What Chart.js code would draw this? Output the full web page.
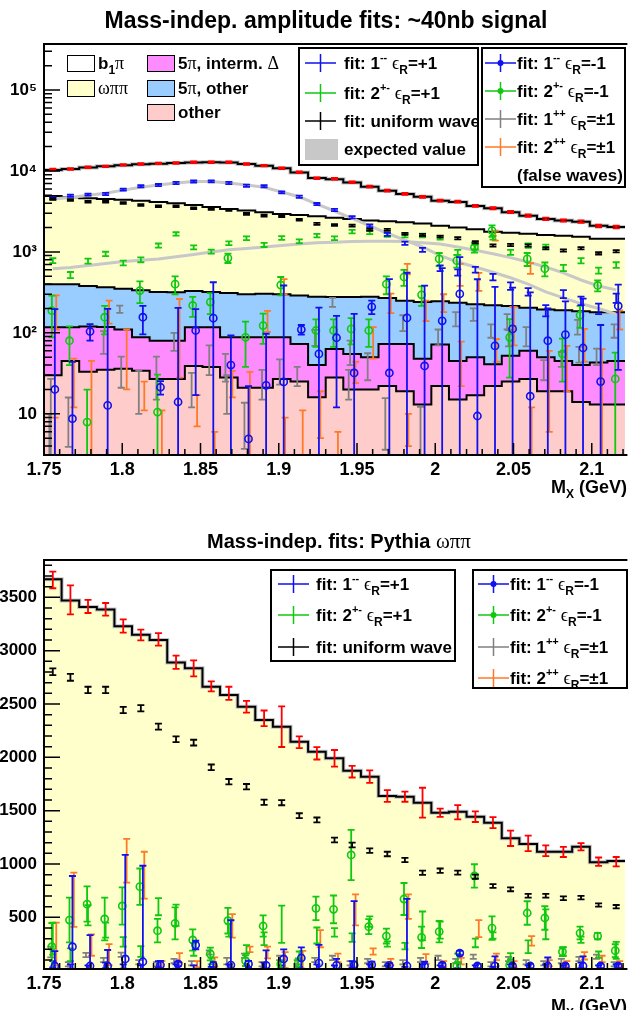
<!DOCTYPE html>
<html>
<head>
<meta charset="utf-8">
<title>Mass-indep. amplitude fits</title>
<script src="https://cdn.jsdelivr.net/npm/chart.js@4.4.1/dist/chart.umd.min.js"></script>
<style>
  html, body { margin: 0; padding: 0; background: #fff; }
  canvas { display: block; }
</style>
</head>
<body>
<canvas id="topChart" width="631" height="505"></canvas>
<canvas id="bottomChart" width="631" height="505"></canvas>
<script>
// binning of M_X (GeV)
const binStart = 1.75;
const binWidth = 0.01125;
const xMin = 1.75;
const xMax = 2.1215;

const xTicks = [1.75, 1.8, 1.85, 1.9, 1.95, 2.0, 2.05, 2.1];
const xTickLabels = ['1.75', '1.8', '1.85', '1.9', '1.95', '2', '2.05', '2.1'];
const topYTicks = [10, 100, 1000, 10000, 100000];
const topYTickLabels = ['10', '10²', '10³', '10⁴', '10⁵'];
const bottomYTicks = [500, 1000, 1500, 2000, 2500, 3000, 3500];
const bottomYTickLabels = ['500', '1000', '1500', '2000', '2500', '3000', '3500'];

// ---- top plot: ~40nb signal (stacked generated samples, cumulative tops) ----
const topTotalHist = [10300, 10600, 11000, 11400, 11800, 12100, 12300, 12500, 12700, 12800, 12700, 12200, 11600, 10800, 9600, 8200, 7900, 7200, 6400, 5700, 5200, 4800, 4300, 4150, 3700, 3450, 3100, 2800, 2550, 2450, 2350, 2100, 2030];
const topOmegaHist = [4900, 4750, 4600, 4500, 4400, 4300, 4150, 4000, 3800, 3600, 3400, 3250, 3100, 2950, 2850, 2750, 2650, 2550, 2450, 2400, 2330, 2250, 2110, 2000, 1900, 1780, 1720, 1680, 1620, 1580, 1540, 1450, 1450];
const top5piHist = [400, 400, 380, 365, 350, 335, 320, 318, 330, 320, 310, 300, 305, 300, 290, 280, 278, 278, 280, 270, 250, 240, 245, 235, 225, 220, 215, 205, 195, 190, 185, 180, 180];
const topDeltaHist = [117, 117, 120, 118, 110, 88, 80, 80, 117, 117, 88, 88, 88, 88, 73, 40, 63, 55, 50, 73, 73, 48, 72, 45, 50, 41, 52, 60, 50, 45, 40, 43, 45];
const topOtherHist = [30, 45, 33, 35, 36, 34, 27, 27, 39, 38, 28, 21, 21, 27, 25, 16, 28, 20, 20, 22, 19, 13, 22, 15, 17, 22, 25, 27, 19, 19, 14, 13, 13];

const topExpB = [4500, 4700, 5000, 5300, 5800, 6300, 6700, 7100, 7400, 7400, 7100, 6700, 6300, 5500, 4800, 3900, 3200, 2600, 2100, 1700, 1400, 1150, 900, 750, 650, 560, 480, 400, 320, 270, 230, 200, 170];
const topExpG = [620, 640, 680, 720, 760, 790, 820, 870, 930, 1000, 1060, 1100, 1150, 1200, 1250, 1300, 1320, 1340, 1350, 1350, 1340, 1300, 1250, 1150, 1050, 950, 850, 750, 650, 550, 450, 380, 340];

const topRed = [10400, 10600, 11100, 11400, 11900, 12200, 12400, 12550, 12800, 12800, 12800, 12200, 11650, 10800, 9630, 8130, 8000, 7250, 6400, 5720, 5200, 4800, 4300, 4180, 3700, 3460, 3120, 2810, 2560, 2440, 2370, 2090, 2030];
const topRedErr = [250, 250, 260, 260, 270, 270, 280, 280, 280, 280, 280, 270, 260, 250, 230, 200, 200, 180, 170, 150, 140, 130, 120, 120, 110, 100, 95, 90, 85, 80, 80, 75, 75];
const topBlack = [4500, 4390, 4170, 4170, 4020, 3800, 3660, 3660, 3460, 3400, 3300, 2950, 2810, 2760, 2500, 2220, 2150, 2110, 1870, 1870, 1670, 1620, 1545, 1475, 1320, 1200, 1220, 1200, 1110, 1040, 1110, 960, 1020];
const topBlackErr = [110, 110, 105, 105, 100, 95, 92, 92, 88, 86, 84, 76, 73, 72, 66, 60, 58, 57, 52, 52, 48, 47, 45, 44, 40, 37, 38, 37, 35, 34, 35, 31, 33];
const topBlueI = [4600, 4950, 5100, 5200, 5870, 6470, 6700, 7100, 7400, 7450, 7100, 6570, 6470, 5450, 4800, 3900, 3300, 2680, 2100, 1650, 1280, 1060, 630, 560, 605, 490, 380, 323, 190, 303, 250, 200, 270];
const topBlueIErr = [140, 150, 150, 160, 170, 190, 200, 210, 220, 220, 210, 200, 190, 160, 150, 120, 110, 90, 80, 70, 60, 60, 50, 50, 50, 45, 40, 35, 30, 35, 30, 30, 35];
const topGreenI = [780, 520, 770, 945, 730, 800, 1200, 1670, 1140, 1010, 1280, 1480, 1220, 1490, 1355, 1590, 1480, 1780, 1750, 1620, 1600, 1600, 1500, 990, 1150, 1500, 990, 1200, 1160, 635, 780, 590, 690];
const topGreenIErr = [55, 45, 55, 60, 50, 55, 70, 80, 65, 60, 70, 80, 70, 80, 75, 80, 80, 90, 90, 85, 85, 85, 80, 70, 75, 80, 70, 75, 70, 55, 60, 50, 55];
const topGreenC = [188, 80, 7.9, 156, null, 333, 10.5, 400, 218, 240, 840, 88, 123, 390, null, 107, 107, 112, 107, 400, 490, 295, 820, 780, 1140, 1830, 88, 820, 620, 55, 165, 385, 27];
const topGreenCErr = [100, 40, 12, 60, 0, 100, 20, 100, 60, 70, 110, 50, 50, 100, 0, 40, 40, 40, 40, 100, 110, 80, 150, 140, 160, 300, 60, 150, 120, 30, 50, 60, 30];
const topBlueC = [20, 8.7, 104, 12.7, null, 156, 21.3, 14, 107, 152, 40, 4.9, 22.5, 24.8, 110, 55, 87, 32, 210, 32, 153, 39, 141, 303, 9.4, 69, 112, 16.5, 80, 95, 65, 25, 215];
const topBlueCErr = [177, 35, 24, 185, 0, 60, 4, 190, 90, 270, 53, 17, 75, 360, 15, 150, 75, 140, 40, 430, 400, 345, 490, 560, 450, 300, 250, 300, 120, 150, 200, 100, 180];
const topGray = [15, 9.9, null, 80, 36, 22, 33, 80, 22, 50, 20, 8.7, 25, 35, 30, 89, 240, 60, 41, 9.6, 135, 7.2, 90, 150, 171, 107, 88, 93, 36, 48, 55, 52, 107];
const topGrayErr = [12, 6, 0, 25, 15, 12, 18, 20, 10, 20, 10, 5, 10, 12, 8, 20, 30, 20, 15, 6, 30, 5, 20, 30, 30, 20, 20, 25, 10, 10, 12, 12, 20];
const topGrayB = [6, null, null, null, 197, null, null, null, null, null, 40, null, null, null, null, null, null, 25, null, null, null, null, null, null, null, null, 140, null, null, null, 120, null, null];
const topGrayBErr = [4, 0, 0, 0, 20, 0, 0, 0, 0, 0, 15, 0, 0, 0, 0, 0, 0, 10, 0, 0, 0, 0, 0, 0, 0, 0, 30, 0, 0, 0, 25, 0, 0];
const topOrange = [200, 30, 20, 190, 65, 18, 6, 145, 12, 4, 25, 15, 145, 6, 6, 12, 4, 34, 83, 240, 7, 195, 240, 50, 440, 64, 140, 6, 33, 44, 78, 30, 150];
const topOrangeErr = [90, 18, 25, 60, 45, 7, 5, 117, 5, 2, 9, 18, 42, 3, 5, 7, 2, 10, 35, 65, 3, 55, 60, 28, 110, 20, 70, 6, 27, 25, 34, 33, 40];
const topOrangeB = [5, null, null, null, null, null, null, null, null, null, null, null, null, 380, null, null, null, null, null, null, 620, null, null, 545, null, 1600, 166, 630, null, null, null, null, null];
const topOrangeBErr = [4, 0, 0, 0, 0, 0, 0, 0, 0, 0, 0, 0, 0, 80, 0, 0, 0, 0, 0, 0, 90, 0, 0, 165, 0, 225, 44, 95, 0, 0, 0, 0, 0];

// ---- bottom plot: Pythia omega pi pi ----
const botHist = [3670, 3470, 3410, 3385, 3230, 3150, 3100, 2890, 2835, 2662, 2585, 2475, 2350, 2287, 2147, 2053, 1991, 1875, 1819, 1638, 1631, 1575, 1481, 1491, 1444, 1388, 1241, 1188, 1116, 1116, 1163, 1016, 1028];
const botRed = [3663, 3476, 3415, 3388, 3231, 3147, 3106, 2891, 2835, 2665, 2600, 2475, 2366, 2287, 2141, 2038, 1991, 1866, 1819, 1638, 1631, 1575, 1481, 1485, 1444, 1388, 1241, 1194, 1125, 1113, 1162, 1022, 1022];
const botRedErr = [78, 136, 62, 59, 62, 50, 59, 62, 75, 47, 62, 55, 73, 190, 55, 58, 78, 55, 59, 55, 47, 140, 39, 67, 50, 52, 72, 73, 50, 47, 34, 39, 44];
const botBlack = [2803, 2750, 2632, 2632, 2444, 2460, 2288, 2170, 2138, 1907, 1772, 1725, 1579, 1575, 1453, 1413, 1225, 1178, 1125, 1094, 1038, 919, 938, 919, 881, 794, 763, 703, 703, 679, 685, 616, 600];
const botBlackErr = [32, 32, 30, 30, 29, 29, 28, 27, 27, 26, 25, 25, 24, 24, 23, 23, 22, 22, 21, 21, 20, 20, 20, 19, 19, 18, 18, 17, 17, 17, 17, 16, 16];
const botGreenC = [225, 475, 625, 485, 607, 788, 375, 444, 288, 157, 469, 94, 419, 63, 75, 585, 575, 1085, 413, 325, 672, 313, 366, 44, 888, 400, 53, 541, 494, 178, 353, 325, 188];
const botGreenCErr = [222, 210, 165, 200, 175, 170, 110, 150, 100, 60, 120, 50, 100, 30, 40, 110, 130, 235, 70, 70, 150, 100, 100, 30, 110, 110, 30, 110, 110, 40, 60, 30, 60];
const botGreenI = [300, 150, 520, 380, 270, 180, 600, 520, 200, 90, 380, 200, 300, 435, 140, 330, 360, 310, 460, 250, 230, 420, 380, 120, 260, 330, 135, 225, 435, 180, 290, 150, 190];
const botGreenIErr = [150, 60, 95, 70, 45, 50, 80, 100, 60, 30, 60, 40, 60, 175, 40, 75, 40, 40, 50, 25, 30, 135, 80, 40, 40, 30, 30, 60, 140, 40, 30, 30, 80];
const botBlueC = [44, 225, 44, 44, 110, 84, 53, 63, 241, 50, 53, 63, 50, 110, 119, 72, 50, 53, 55, 50, 44, 44, 53, 165, 44, 44, 44, 44, 44, 44, 44, 44, 44];
const botBlueCErr = [140, 663, 290, 150, 975, 900, 40, 20, 40, 30, 420, 30, 140, 90, 100, 170, 60, 600, 30, 20, 630, 40, 20, 20, 20, 90, 20, 20, 80, 20, 90, 20, 20];
const botBlueI = [60, 40, 30, 50, 40, 30, 60, 40, 30, 20, 40, 30, 50, 30, 20, 40, 30, 60, 40, 30, 20, 40, 30, 50, 30, 20, 40, 30, 40, 30, 50, 30, 40];
const botBlueIErr = [30, 20, 20, 25, 20, 20, 30, 20, 20, 15, 20, 20, 25, 20, 15, 20, 20, 30, 20, 20, 15, 20, 20, 25, 20, 15, 20, 20, 20, 20, 25, 20, 20];
const botGray = [175, 60, 148, 100, 150, 80, 60, 90, 70, 170, 90, 140, 60, 120, 80, 100, 120, 70, 90, 60, 80, 100, 120, 90, 130, 60, 110, 80, 70, 90, 110, 130, 60];
const botGrayErr = [50, 20, 20, 20, 20, 20, 20, 20, 20, 20, 30, 20, 20, 20, 20, 20, 20, 20, 20, 20, 20, 20, 20, 20, 20, 20, 20, 20, 20, 20, 20, 20, 20];
const botOrange = [250, 665, 240, 150, 1030, 895, 50, 120, 60, 80, 420, 200, 170, 100, 100, 300, 120, 570, 180, 80, 600, 110, 60, 90, 395, 130, 60, 280, 70, 60, 140, 110, 60];
const botOrangeErr = [200, 255, 100, 100, 205, 220, 40, 45, 30, 45, 110, 25, 55, 75, 85, 80, 40, 145, 30, 30, 115, 45, 30, 30, 80, 30, 30, 45, 30, 30, 35, 30, 30];

// colours
const RED = '#ff0000', BLUE = '#1010f0', GREEN = '#10c810', GRAY = '#808080', ORANGE = '#ff7a26', EXPECTED = '#c8c8c8';
const FILL_B1PI = '#ffffff', FILL_OMEGA = '#ffffcc', FILL_5PI = '#99ccff', FILL_DELTA = '#ff8cff', FILL_OTHER = '#ffcccc';
const SANS = '"Liberation Sans", Arial, Helvetica, sans-serif';
const SERIF = '"Liberation Serif", "DejaVu Serif", serif';

// small horizontal offsets (GeV) so the series do not sit on top of each other
const SHIFT = { blueC: 0.0013, greenC: -0.0006, gray: -0.0013, grayB: -0.0022, orange: 0.0022, orangeB: 0.0015 };

function binCenter(i) {
    return binStart + (i + 0.5) * binWidth;
}

function histData(values) {
    const pts = values.map((v, i) => ({ x: binStart + i * binWidth, y: v }));
    pts.push({ x: binStart + values.length * binWidth, y: values[values.length - 1] });
    return pts;
}

function histSet(values, fillColor, border, order, width) {
    return {
        type: 'line', data: histData(values), order: order,
        stepped: 'before', tension: 0,
        borderColor: border || 'rgba(0,0,0,0)', borderWidth: width || (border ? 2 : 0),
        backgroundColor: fillColor || 'rgba(0,0,0,0)',
        fill: fillColor ? 'start' : false,
        pointRadius: 0
    };
}

function lineSet(values, color, width, order) {
    return {
        type: 'line', data: values.map((v, i) => ({ x: binCenter(i), y: v })), order: order,
        borderColor: color, borderWidth: width, fill: false, pointRadius: 0, tension: 0
    };
}

function pointSet(values, errors, color, shift, circle, order) {
    return {
        type: 'line', order: order,
        data: values.map((v, i) => ({ x: binCenter(i) + shift, y: v })),
        errors: errors,
        showLine: false,
        borderColor: color,
        backgroundColor: 'rgba(0,0,0,0)',
        pointRadius: circle ? 3.6 : 0,
        pointBorderWidth: 1.6,
        pointBorderColor: color,
        pointBackgroundColor: 'rgba(0,0,0,0)'
    };
}

// vertical error bars with end caps, drawn just before each point dataset
const errorBarPlugin = {
    id: 'errorBars',
    beforeDatasetDraw(chart, args) {
        const ds = chart.data.datasets[args.index];
        if (!ds.errors) return;
        const ctx = chart.ctx;
        const a = chart.chartArea;
        const yScale = chart.scales.y;
        const cap = 3.5;
        ctx.save();
        ctx.beginPath();
        ctx.rect(a.left, a.top, a.right - a.left, a.bottom - a.top);
        ctx.clip();
        ctx.strokeStyle = ds.borderColor;
        ctx.lineWidth = 1.8;
        args.meta.data.forEach((pt, i) => {
            const v = ds.data[i].y;
            if (v === null || v === undefined) return;
            const e = ds.errors[i];
            const yTop = yScale.getPixelForValue(v + e);
            const lowOk = v - e > yScale.min;
            const yBot = lowOk ? yScale.getPixelForValue(v - e) : a.bottom + 5;
            ctx.beginPath();
            ctx.moveTo(pt.x, yTop);
            ctx.lineTo(pt.x, yBot);
            ctx.moveTo(pt.x - cap, yTop);
            ctx.lineTo(pt.x + cap, yTop);
            if (lowOk) {
                ctx.moveTo(pt.x - cap, yBot);
                ctx.lineTo(pt.x + cap, yBot);
            }
            ctx.stroke();
        });
        ctx.restore();
    }
};

// ROOT-like frame with ticks on the inside
function drawFrame(chart, yMajor, yMinor) {
    const ctx = chart.ctx;
    const a = chart.chartArea;
    const xs = chart.scales.x, ys = chart.scales.y;
    ctx.save();
    ctx.strokeStyle = '#000';
    ctx.lineWidth = 1.5;
    ctx.beginPath();
    for (let k = 0; k <= 37; k++) {
        const px = xs.getPixelForValue(1.75 + k * 0.01);
        const len = k % 5 === 0 ? 12 : 6;
        ctx.moveTo(px, a.bottom);
        ctx.lineTo(px, a.bottom - len);
    }
    yMinor.forEach(v => {
        if (v <= ys.min || v >= ys.max) return;
        const py = ys.getPixelForValue(v);
        ctx.moveTo(a.left, py);
        ctx.lineTo(a.left + 8, py);
    });
    yMajor.forEach(v => {
        const py = ys.getPixelForValue(v);
        ctx.moveTo(a.left, py);
        ctx.lineTo(a.left + 16, py);
    });
    ctx.stroke();
    ctx.lineWidth = 2;
    ctx.beginPath();
    ctx.moveTo(a.right + 2, a.top);
    ctx.lineTo(a.left, a.top);
    ctx.lineTo(a.left, a.bottom);
    ctx.lineTo(a.right + 2, a.bottom);
    ctx.stroke();
    ctx.restore();
}

// text with ROOT-style super/subscripts and greek letters
function richText(ctx, parts, x, y, size, draw) {
    let cx = x;
    parts.forEach(([txt, kind]) => {
        let dy = 0;
        if (kind === 'sym') {
            ctx.font = (size + 1) + 'px ' + SERIF;
        } else if (kind === 'sup') {
            ctx.font = 'bold ' + Math.round(size * 0.62) + 'px ' + SANS;
            dy = -size * 0.45;
        } else if (kind === 'sub') {
            ctx.font = 'bold ' + Math.round(size * 0.68) + 'px ' + SANS;
            dy = size * 0.3;
        } else {
            ctx.font = 'bold ' + size + 'px ' + SANS;
        }
        if (draw) ctx.fillText(txt, cx, y + dy);
        cx += ctx.measureText(txt).width;
    });
    return cx - x;
}

function fitLabel(jpc, refl) {
    return [['fit: ' + jpc[0], 'b'], [jpc.slice(1), 'sup'], [' ', 'b'], ['ϵ', 'sym'], ['R', 'sub'], ['=' + refl, 'b']];
}

function drawCross(ctx, x0, yc, color, dot) {
    ctx.strokeStyle = color;
    ctx.lineWidth = 1.5;
    ctx.beginPath();
    ctx.moveTo(x0, yc);
    ctx.lineTo(x0 + 31, yc);
    ctx.moveTo(x0 + 15.5, yc - 9);
    ctx.lineTo(x0 + 15.5, yc + 9);
    ctx.stroke();
    if (dot) {
        ctx.fillStyle = color;
        ctx.beginPath();
        ctx.arc(x0 + 15.5, yc, 3, 0, 2 * Math.PI);
        ctx.fill();
    }
}

function legendBox(ctx, x, y, w, h) {
    ctx.fillStyle = '#fff';
    ctx.fillRect(x, y, w, h);
    ctx.strokeStyle = '#000';
    ctx.lineWidth = 2;
    ctx.strokeRect(x, y, w, h);
}

function drawCentered(ctx, parts, cx, y, size) {
    const w = richText(ctx, parts, 0, 0, size, false);
    richText(ctx, parts, cx - w / 2, y, size, true);
}

function drawRight(ctx, parts, rx, y, size) {
    const w = richText(ctx, parts, 0, 0, size, false);
    richText(ctx, parts, rx - w, y, size, true);
}

const axisTitle = [['M', 'b'], ['X', 'sub'], [' (GeV)', 'b']];

const topDecor = {
    id: 'topDecor',
    afterDatasetsDraw(chart) {
        const logMinor = [];
        [1, 10, 100, 1000, 10000, 100000].forEach(dec => {
            for (let d = 2; d <= 9; d++) logMinor.push(d * dec);
        });
        drawFrame(chart, topYTicks, logMinor);
    },
    afterDraw(chart) {
        const ctx = chart.ctx;
        ctx.save();
        ctx.textBaseline = 'alphabetic';
        ctx.fillStyle = '#000';
        drawCentered(ctx, [['Mass-indep. amplitude fits: ~40nb signal', 'b']], 326, 28, 23);

        // fill legend (no border)
        const fills = [
            [67, 55, FILL_B1PI, [['b', 'b'], ['1', 'sub'], ['π', 'sym']]],
            [67, 80, FILL_OMEGA, [['ωππ', 'sym']]],
            [147, 55, FILL_DELTA, [['5', 'b'], ['π', 'sym'], [', interm. ', 'b'], ['Δ', 'sym']]],
            [147, 80, FILL_5PI, [['5', 'b'], ['π', 'sym'], [', other', 'b']]],
            [147, 104, FILL_OTHER, [['other', 'b']]]
        ];
        fills.forEach(([x, y, col, parts]) => {
            ctx.fillStyle = col;
            ctx.fillRect(x, y, 27, 16);
            ctx.strokeStyle = '#000';
            ctx.lineWidth = 1;
            ctx.strokeRect(x + 0.5, y + 0.5, 27, 16);
            ctx.fillStyle = '#000';
            richText(ctx, parts, x + 31, y + 14, 17, true);
        });

        legendBox(ctx, 299, 48, 179, 117);
        drawCross(ctx, 305, 63, BLUE, false);
        drawCross(ctx, 305, 93, GREEN, false);
        drawCross(ctx, 305, 121, '#000', false);
        ctx.fillStyle = EXPECTED;
        ctx.fillRect(305, 139, 33, 21);
        ctx.fillStyle = '#000';
        richText(ctx, fitLabel('1--', '+1'), 344, 69, 17, true);
        richText(ctx, fitLabel('2+-', '+1'), 344, 99, 17, true);
        ctx.save();
        ctx.beginPath();
        ctx.rect(299, 48, 178, 117);
        ctx.clip();
        richText(ctx, [['fit: uniform wave', 'b']], 344, 127, 17, true);
        ctx.restore();
        richText(ctx, [['expected value', 'b']], 344, 155, 17, true);

        legendBox(ctx, 482, 48, 143, 139);
        drawCross(ctx, 485, 63, BLUE, true);
        drawCross(ctx, 485, 91, GREEN, true);
        drawCross(ctx, 485, 119, GRAY, false);
        drawCross(ctx, 485, 147, ORANGE, false);
        ctx.fillStyle = '#000';
        richText(ctx, fitLabel('1--', '-1'), 517, 69, 17, true);
        richText(ctx, fitLabel('2+-', '-1'), 517, 97, 17, true);
        richText(ctx, fitLabel('1++', '±1'), 517, 125, 17, true);
        richText(ctx, fitLabel('2++', '±1'), 517, 153, 17, true);
        richText(ctx, [['(false waves)', 'b']], 517, 181, 17, true);

        drawRight(ctx, axisTitle, 627, 493, 18);
        ctx.restore();
    }
};

const bottomDecor = {
    id: 'bottomDecor',
    afterDatasetsDraw(chart) {
        const linMinor = [];
        for (let v = 100; v <= 3800; v += 100) linMinor.push(v);
        drawFrame(chart, bottomYTicks, linMinor);
    },
    afterDraw(chart) {
        const ctx = chart.ctx;
        ctx.save();
        ctx.textBaseline = 'alphabetic';
        ctx.fillStyle = '#000';
        drawCentered(ctx, [['Mass-indep. fits: Pythia ', 'b'], ['ωππ', 'sym']], 339, 43, 20);

        legendBox(ctx, 271, 65, 184, 91);
        drawCross(ctx, 278, 79, BLUE, false);
        drawCross(ctx, 278, 110, GREEN, false);
        drawCross(ctx, 278, 142, '#000', false);
        ctx.fillStyle = '#000';
        richText(ctx, fitLabel('1--', '+1'), 316, 85, 17, true);
        richText(ctx, fitLabel('2+-', '+1'), 316, 116, 17, true);
        richText(ctx, [['fit: uniform wave', 'b']], 316, 148, 17, true);

        legendBox(ctx, 473, 65, 154, 118);
        drawCross(ctx, 478, 79, BLUE, true);
        drawCross(ctx, 478, 110, GREEN, true);
        drawCross(ctx, 478, 142, GRAY, false);
        drawCross(ctx, 478, 173, ORANGE, false);
        ctx.fillStyle = '#000';
        richText(ctx, fitLabel('1--', '-1'), 510, 85, 17, true);
        richText(ctx, fitLabel('2+-', '-1'), 510, 116, 17, true);
        richText(ctx, fitLabel('1++', '±1'), 510, 148, 17, true);
        richText(ctx, fitLabel('2++', '±1'), 510, 179, 17, true);

        drawRight(ctx, axisTitle, 627, 507, 18);
        ctx.restore();
    }
};

function xAxis(height) {
    return {
        type: 'linear', min: xMin, max: xMax,
        grid: { display: false, drawTicks: false },
        border: { display: false },
        afterBuildTicks: s => { s.ticks = xTicks.map(v => ({ value: v })); },
        afterFit: s => { s.height = height; },
        ticks: {
            autoSkip: false, maxRotation: 0, padding: 4, color: '#000',
            font: { family: SANS, size: 18, weight: 'bold' },
            callback: (v, i) => xTickLabels[i]
        }
    };
}

function yAxis(type, min, max, ticks, labels) {
    return {
        type: type, min: min, max: max,
        grid: { display: false, drawTicks: false },
        border: { display: false },
        afterBuildTicks: s => { s.ticks = ticks.map(v => ({ value: v })); },
        afterFit: s => { s.width = 44; },
        ticks: {
            autoSkip: false, padding: 7, color: '#000',
            font: { family: SANS, size: 17, weight: 'bold' },
            callback: (v, i) => labels[i]
        }
    };
}

function baseOptions(padTop, xHeight, yScale) {
    return {
        responsive: false,
        animation: false,
        devicePixelRatio: 1,
        events: [],
        layout: { padding: { top: padTop, left: 0, right: 0, bottom: 0 } },
        scales: { x: xAxis(xHeight), y: yScale },
        plugins: { legend: { display: false }, tooltip: { enabled: false }, title: { display: false } }
    };
}

document.addEventListener('DOMContentLoaded', function() {
    new Chart(document.getElementById('topChart').getContext('2d'), {
        type: 'line',
        data: {
            datasets: [
                histSet(topTotalHist, FILL_B1PI, null, 120),
                histSet(topTotalHist, null, '#c4c4c4', 119, 4),
                histSet(topTotalHist, null, '#000', 118, 2),
                histSet(topOmegaHist, FILL_OMEGA, '#000', 110),
                histSet(top5piHist, FILL_5PI, '#000', 109),
                histSet(topDeltaHist, FILL_DELTA, '#000', 108),
                histSet(topOtherHist, FILL_OTHER, '#000', 107),
                lineSet(topExpB, EXPECTED, 3, 90),
                lineSet(topExpG, EXPECTED, 3, 89),
                pointSet(topOrangeB, topOrangeBErr, ORANGE, SHIFT.orangeB, false, 60),
                pointSet(topOrange, topOrangeErr, ORANGE, SHIFT.orange, false, 59),
                pointSet(topGrayB, topGrayBErr, GRAY, SHIFT.grayB, false, 58),
                pointSet(topGray, topGrayErr, GRAY, SHIFT.gray, false, 57),
                pointSet(topGreenC, topGreenCErr, GREEN, SHIFT.greenC, true, 56),
                pointSet(topBlueC, topBlueCErr, BLUE, SHIFT.blueC, true, 55),
                pointSet(topGreenI, topGreenIErr, GREEN, 0, false, 54),
                pointSet(topBlueI, topBlueIErr, BLUE, 0, false, 53),
                pointSet(topBlack, topBlackErr, '#000', 0, false, 52),
                pointSet(topRed, topRedErr, RED, 0, false, 51)
            ]
        },
        options: baseOptions(44, 50, yAxis('logarithmic', 3.1, 370000, topYTicks, topYTickLabels)),
        plugins: [errorBarPlugin, topDecor]
    });

    new Chart(document.getElementById('bottomChart').getContext('2d'), {
        type: 'line',
        data: {
            datasets: [
                histSet(botHist, FILL_OMEGA, null, 120),
                histSet(botHist, null, '#c4c4c4', 119, 4),
                histSet(botHist, null, '#000', 118, 2),
                pointSet(botGray, botGrayErr, GRAY, SHIFT.gray, false, 60),
                pointSet(botOrange, botOrangeErr, ORANGE, SHIFT.orange, false, 59),
                pointSet(botBlueI, botBlueIErr, BLUE, 0, false, 58),
                pointSet(botGreenI, botGreenIErr, GREEN, 0, false, 57),
                pointSet(botGreenC, botGreenCErr, GREEN, SHIFT.greenC, true, 56),
                pointSet(botBlueC, botBlueCErr, BLUE, SHIFT.blueC, true, 55),
                pointSet(botBlack, botBlackErr, '#000', 0, false, 52),
                pointSet(botRed, botRedErr, RED, 0, false, 51)
            ]
        },
        options: baseOptions(55, 41, yAxis('linear', 16, 3850, bottomYTicks, bottomYTickLabels)),
        plugins: [errorBarPlugin, bottomDecor]
    });
});
</script>
</body>
</html>
